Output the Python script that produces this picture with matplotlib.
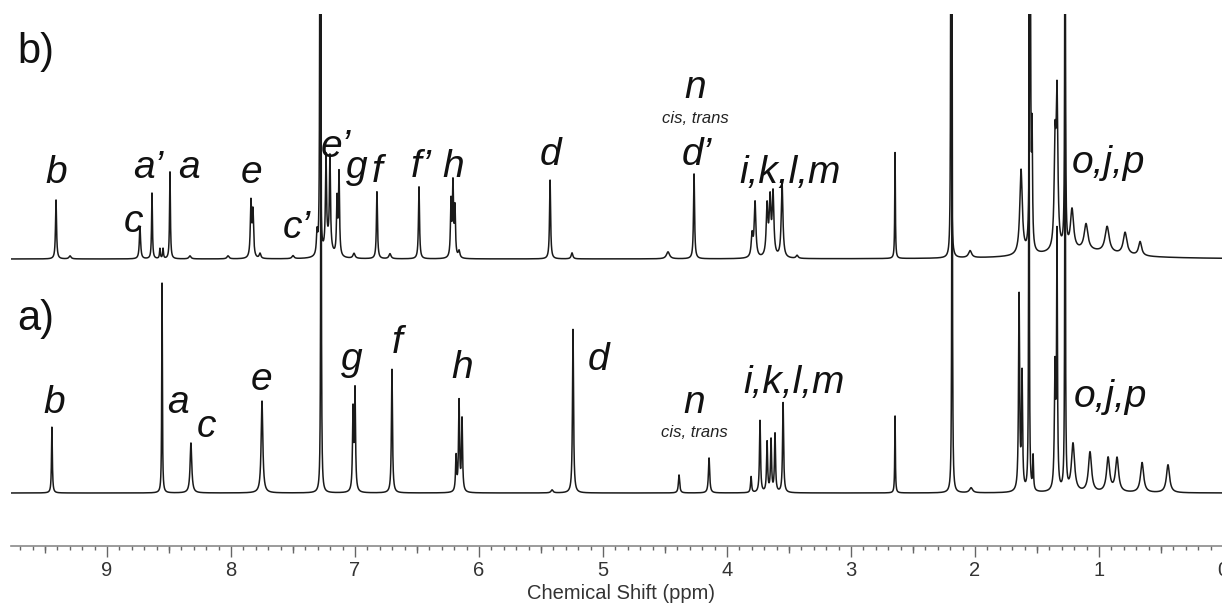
import numpy as np
import matplotlib
matplotlib.use('Agg')
import matplotlib.pyplot as plt
from matplotlib.ticker import MultipleLocator

plt.rcParams['font.family'] = ['Liberation Sans', 'DejaVu Sans']

# peak tables: position (ppm), height (arb.), half width (ppm)
# spectrum b) (upper trace)
b_ppm = [9.411, 9.298, 8.734, 8.637, 8.573, 8.548, 8.492, 8.331, 8.024,
         7.839, 7.823, 7.766, 7.500, 7.306, 7.282, 7.234, 7.202, 7.218,
         7.145, 7.129, 7.008, 6.823, 6.718, 6.484, 6.226, 6.210, 6.194,
         6.161, 5.427, 5.250, 4.476, 4.266, 3.798, 3.774, 3.677, 3.653,
         3.629, 3.556, 3.435, 2.645, 2.194, 2.040, 1.629, 1.556, 1.540,
         1.355, 1.339, 1.274, 1.218, 1.105, 0.935, 0.790, 0.669, 1.15]
b_height = [59, 3, 32, 66, 10, 10, 87, 3, 3,
            55, 45, 5, 3, 22, 500, 90, 90, 15,
            55, 82, 5, 67, 5, 72, 55, 72, 48,
            7, 79, 6, 7, 85, 22, 55, 50, 55,
            62, 74, 3, 106, 500, 7, 85, 500, 110,
            100, 150, 500, 40, 26, 26, 22, 14, 8]
b_width = [0.005, 0.01, 0.006, 0.004, 0.004, 0.004, 0.004, 0.01, 0.01,
           0.006, 0.006, 0.008, 0.01, 0.006, 0.003, 0.005, 0.005, 0.03,
           0.005, 0.005, 0.01, 0.005, 0.01, 0.005, 0.005, 0.005, 0.005,
           0.008, 0.005, 0.008, 0.015, 0.005, 0.008, 0.008, 0.008, 0.008,
           0.008, 0.008, 0.01, 0.003, 0.003, 0.015, 0.012, 0.004, 0.004,
           0.008, 0.008, 0.003, 0.015, 0.018, 0.02, 0.018, 0.015, 0.35]

# spectrum a) (lower trace)
a_ppm = [9.444, 8.556, 8.323, 7.750, 7.274, 7.016, 7.000, 6.702, 6.185,
         6.161, 6.137, 5.411, 5.242, 4.387, 4.145, 3.806, 3.734, 3.677,
         3.645, 3.613, 3.548, 2.645, 2.185, 2.032, 1.645, 1.621, 1.565,
         1.532, 1.355, 1.339, 1.274, 1.210, 1.073, 0.927, 0.855, 0.653,
         0.444]
a_height = [66, 210, 50, 92, 500, 80, 100, 124, 35,
            90, 72, 3, 164, 18, 35, 16, 72, 50,
            52, 58, 90, 77, 500, 5, 195, 115, 500,
            34, 120, 250, 500, 48, 40, 34, 34, 30,
            28]
a_width = [0.004, 0.003, 0.008, 0.008, 0.003, 0.005, 0.005, 0.005, 0.005,
           0.005, 0.005, 0.01, 0.005, 0.006, 0.006, 0.005, 0.005, 0.005,
           0.005, 0.005, 0.005, 0.003, 0.003, 0.015, 0.005, 0.005, 0.003,
           0.004, 0.006, 0.004, 0.003, 0.015, 0.015, 0.015, 0.015, 0.015,
           0.015]

b_offset = 287
a_offset = 53

tick_ppm = np.arange(0, 10, 1)

# labels: text, ppm, height above the axis
b_labels = [('b', 9.411, 363), ('c', 8.790, 314), ('a\u2019', 8.669, 368),
            ('a', 8.339, 368), ('e', 7.831, 363), ('c\u2019', 7.468, 308),
            ('e\u2019', 7.153, 389), ('g', 6.984, 368), ('f', 6.823, 364),
            ('f\u2019', 6.468, 369), ('h', 6.210, 369), ('d', 5.427, 381),
            ('n', 4.258, 448), ('d\u2019', 4.242, 381),
            ('i,k,l,m', 3.492, 363), ('o,j,p', 0.927, 373)]
a_labels = [('b', 9.427, 133), ('a', 8.427, 133), ('c', 8.194, 109),
            ('e', 7.758, 156), ('g', 7.024, 176), ('f', 6.661, 193),
            ('h', 6.137, 168), ('d', 5.040, 176), ('n', 4.266, 133),
            ('i,k,l,m', 3.460, 153), ('o,j,p', 0.911, 139)]


def trace(x, pos, h, w):
    y = np.zeros_like(x)
    for p, hh, ww in zip(pos, h, w):
        y += hh * ww**2 / ((x - p)**2 + ww**2)
    return y


x = np.linspace(9.78, -0.06, 16000)

fig = plt.figure(figsize=(12.22, 6.03), dpi=100)
ax = fig.add_axes([11/1222, 1 - 546/603, 1219/1222, 532/603])

ax.plot(x, b_offset + trace(x, b_ppm, b_height, b_width), color='#1a1a1a', lw=1.1)
ax.plot(x, a_offset + trace(x, a_ppm, a_height, a_width), color='#1a1a1a', lw=1.1)

ax.set_xlim(9.774, -0.056)
ax.set_ylim(0, 532)

for s in ['top', 'left', 'right']:
    ax.spines[s].set_visible(False)
ax.spines['bottom'].set_color('#8a8a8a')
ax.spines['bottom'].set_linewidth(1.2)
ax.set_yticks([])

ax.set_xticks(tick_ppm)
ax.xaxis.set_minor_locator(MultipleLocator(0.1))
ax.tick_params(which='major', length=8, width=1, color='#666666',
               labelsize=14.5, labelcolor='#333333', pad=3)
ax.tick_params(which='minor', length=3, width=1, color='#666666')

# medium ticks at the half ppm
sec = ax.secondary_xaxis('bottom')
sec.set_xticks(tick_ppm + 0.5)
sec.set_xticklabels([])
sec.tick_params(length=5, width=1, color='#666666')
sec.spines['bottom'].set_visible(False)

ax.set_xlabel('Chemical Shift (ppm)', fontsize=14.5, color='#333333', labelpad=3)

for txt, px, py in b_labels + a_labels:
    ax.text(px, py, txt, fontsize=28, style='italic', ha='center', va='baseline',
            color='#111111')
ax.text(4.258, 423, 'cis, trans', fontsize=12, style='italic', ha='center',
        va='baseline', color='#222222')
ax.text(4.266, 109, 'cis, trans', fontsize=12, style='italic', ha='center',
        va='baseline', color='#222222')

ax.text(9.726, 483, 'b)', fontsize=30, ha='left', va='baseline', color='#111111')
ax.text(9.726, 216, 'a)', fontsize=30, ha='left', va='baseline', color='#111111')

fig.savefig('out.png', dpi=100)
